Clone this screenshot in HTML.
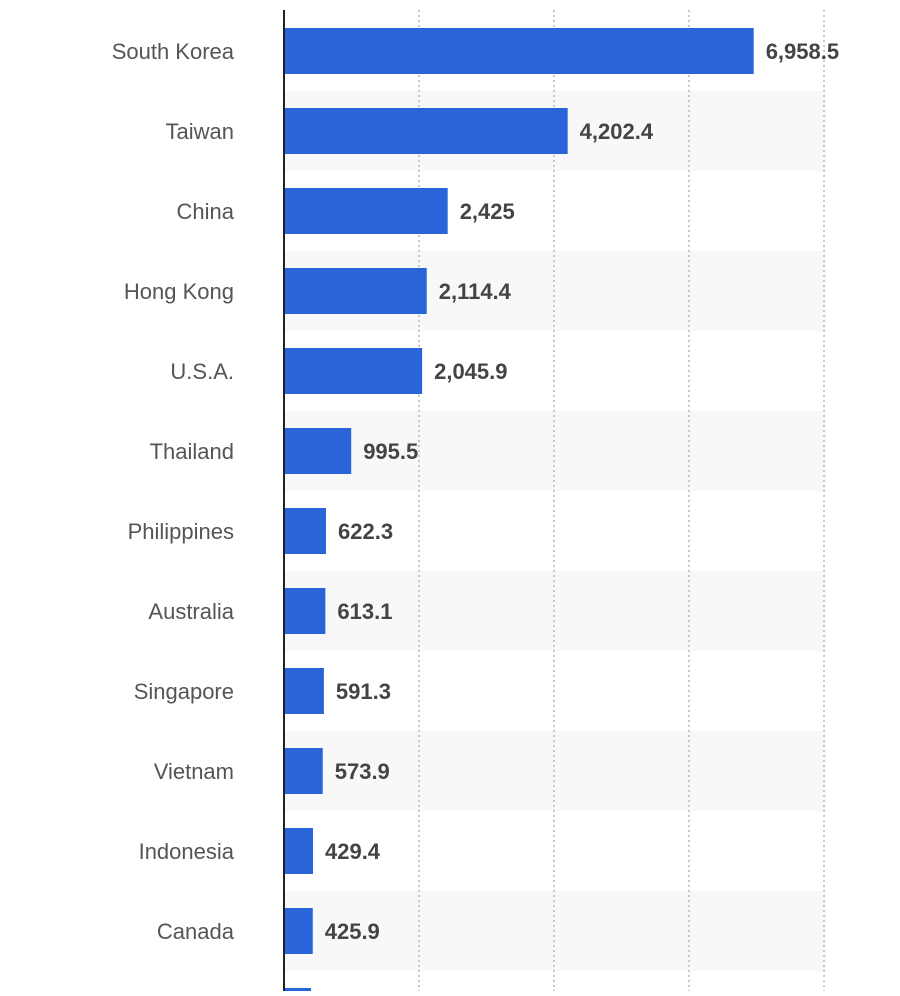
<!DOCTYPE html>
<html><head><meta charset="utf-8"><style>
body{margin:0;background:#fff;width:900px;height:991px;overflow:hidden;font-family:"Liberation Sans",Arial,sans-serif}
</style></head><body>
<svg id="chart" width="900" height="991" xmlns="http://www.w3.org/2000/svg"></svg>
<script>
const categories=["South Korea","Taiwan","China","Hong Kong","U.S.A.","Thailand","Philippines","Australia","Singapore","Vietnam","Indonesia","Canada","Other"];
const values=[6958.5,4202.4,2425,2114.4,2045.9,995.5,622.3,613.1,591.3,573.9,429.4,425.9,400];
const valueLabels=["6,958.5","4,202.4","2,425","2,114.4","2,045.9","995.5","622.3","613.1","591.3","573.9","429.4","425.9",""];
const gridTicks=[2000,4000,6000,8000];
const NS="http://www.w3.org/2000/svg";
const svgEl=document.getElementById('chart');
const x0=284,xMax=8000,xEnd=824;
const xs=v=>x0+v/xMax*(xEnd-x0);
const rowH=80,topY=11;
const yc=i=>topY+rowH*i+40;
function mk(t,a){const e=document.createElementNS(NS,t);for(const k in a)e.setAttribute(k,a[k]);svgEl.appendChild(e);return e;}
categories.forEach((c,i)=>{if(i%2===1){const r=mk('rect',{x:x0,y:yc(i)-40,width:826-x0,height:rowH,fill:'#f8f8f8'});

}});
gridTicks.forEach(t=>{const l=mk('line',{x1:xs(t),x2:xs(t),y1:10,y2:991,stroke:'#c8c8c8','stroke-width':2,'stroke-dasharray':'2,3'});

});
categories.forEach((c,i)=>{
const b=mk('rect',{x:x0,y:yc(i)-23,width:xs(values[i])-x0,height:46,fill:'#2964d9'});


const t=mk('text',{x:234,y:yc(i)+8,'text-anchor':'end','font-size':22,fill:'#555'});t.textContent=c;


const v=mk('text',{x:xs(values[i])+12,y:yc(i)+8,'font-size':22,'font-weight':'bold',fill:'#444'});v.textContent=valueLabels[i];


});
const ax=mk('line',{x1:x0,x2:x0,y1:10,y2:991,stroke:'#222','stroke-width':2});


</script>
</body></html>
